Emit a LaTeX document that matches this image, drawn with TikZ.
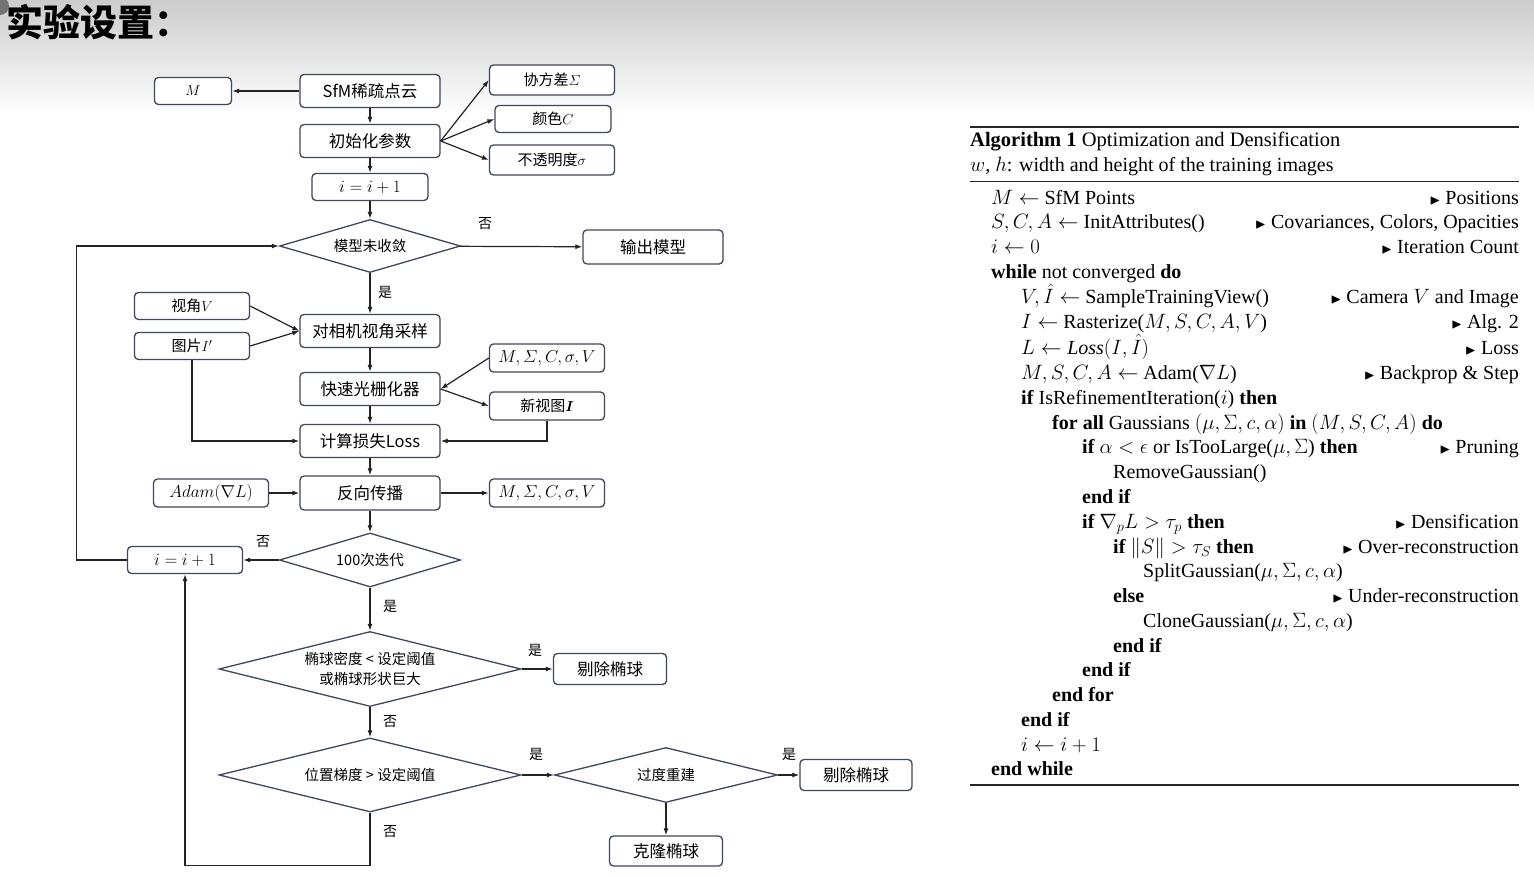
\documentclass[tikz,border=0pt]{standalone}
\usepackage{amsmath,amssymb}
\usepackage{fontspec}
\setmainfont{Liberation Serif}
\newfontfamily\cjk{Noto Sans CJK SC}
\usetikzlibrary{shapes.geometric,arrows.meta}
\definecolor{bcol}{RGB}{62,72,92}
\definecolor{lcol}{RGB}{35,35,35}
\tikzset{
  box/.style={draw=bcol, line width=1.3pt, rounded corners=4pt, fill=white, inner sep=0pt,
    font=\cjk\fontsize{16.5}{19}\selectfont, align=center},
  sbox/.style={box, font=\cjk\fontsize{15}{18}\selectfont},
  mbox/.style={box, font=\fontsize{16.5}{19}\selectfont},
  dia/.style={diamond, draw=bcol, line width=1.3pt, fill=white, inner sep=0pt, aspect=3.4,
    font=\cjk\fontsize{14.5}{20}\selectfont, align=center},
  arr/.style={-{Latex[length=7pt,width=5pt]}, line width=1.2pt, draw=lcol},
  lab/.style={font=\cjk\fontsize{14}{16}\selectfont, inner sep=0pt},
  alg/.style={anchor=base west, font=\fontsize{20}{22}\selectfont, inner sep=0pt},
  cmt/.style={anchor=base east, font=\fontsize{20}{22}\selectfont, inner sep=0pt},
  rulethick/.style={line width=1.8pt, draw=black!85},
}
\newcommand{\cmtmark}{$\scriptstyle\blacktriangleright$\ }
\newcommand{\hI}{\smash{\hat{I}}}
\begin{document}
\begin{tikzpicture}[x=1pt,y=-1pt]
\useasboundingbox (0,0) rectangle (1534,877);
\fill[white] (0,0) rectangle (1534,877);
\shade[top color=black!20, bottom color=white] (0,0) rectangle (1534,115);
\fill[black!55] (0,6) circle (9);
\node[anchor=west, font=\cjk\bfseries\fontsize{37}{40}\selectfont, inner sep=0pt] (title) at (6,22) {实验设置：};

% ---------- flowchart ----------
\node[mbox, minimum width=77pt, minimum height=27pt, font=\fontsize{15}{18}\selectfont] (M) at (193,91) {$M$};
\node[box, minimum width=140pt, minimum height=33pt] (sfm) at (370,91) {SfM稀疏点云};
\node[box, minimum width=140pt, minimum height=33pt] (init) at (370,141) {初始化参数};
\node[mbox, minimum width=116pt, minimum height=27pt] (inc1) at (370,187) {$i=i+1$};
\node[sbox, minimum width=125pt, minimum height=30pt] (cov) at (552,80) {协方差$\varSigma$};
\node[sbox, minimum width=116pt, minimum height=27pt] (col) at (553,119) {颜色$C$};
\node[sbox, minimum width=125pt, minimum height=30pt] (opa) at (552,160) {不透明度$\sigma$};

\node[dia, minimum width=181pt, minimum height=53pt] (d1) at (370,246) {模型未收敛};
\node[box, minimum width=140pt, minimum height=34pt] (out) at (653,247) {输出模型};

\node[sbox, minimum width=115pt, minimum height=27pt] (view) at (192,306) {视角$V$};
\node[sbox, minimum width=115pt, minimum height=27pt] (img) at (192,346) {图片$I'$};
\node[box, minimum width=140pt, minimum height=33pt] (samp) at (370,331) {对相机视角采样};
\node[box, minimum width=140pt, minimum height=33pt] (rast) at (370,389) {快速光栅化器};
\node[mbox, minimum width=115pt, minimum height=28pt] (p1) at (547,358) {$M,\varSigma,C,\sigma,V$};
\node[sbox, minimum width=115pt, minimum height=28pt] (nv) at (547,406) {新视图$\boldsymbol{I}$};
\node[box, minimum width=140pt, minimum height=33pt] (loss) at (370,441) {计算损失Loss};
\node[box, minimum width=140pt, minimum height=34pt] (bp) at (370,493) {反向传播};
\node[mbox, minimum width=115pt, minimum height=28pt] (adam) at (211,493) {$Adam(\nabla L)$};
\node[mbox, minimum width=115pt, minimum height=28pt] (p2) at (547,493) {$M,\varSigma,C,\sigma,V$};

\node[dia, minimum width=181pt, minimum height=54pt] (d2) at (370,560) {100次迭代};
\node[mbox, minimum width=115pt, minimum height=27pt] (inc2) at (185,560) {$i=i+1$};

\node[dia, minimum width=302pt, minimum height=75pt] (d3) at (370,669) {椭球密度 < 设定阈值\\或椭球形状巨大};
\node[box, minimum width=113pt, minimum height=31pt] (rm1) at (610,669) {剔除椭球};

\node[dia, minimum width=302pt, minimum height=74pt] (d4) at (370,775) {位置梯度 > 设定阈值};
\node[dia, minimum width=223pt, minimum height=55pt] (d5) at (666,775) {过度重建};
\node[box, minimum width=112pt, minimum height=31pt] (rm2) at (856,775) {剔除椭球};
\node[box, minimum width=113pt, minimum height=30pt] (clone) at (666,851) {克隆椭球};

% labels
\node[lab] (l1) at (485,224) {否};
\node[lab] (l2) at (385,292) {是};
\node[lab] (l3) at (263,542) {否};
\node[lab] (l4) at (390,606) {是};
\node[lab] (l5) at (535,650) {是};
\node[lab] (l6) at (390,722) {否};
\node[lab] (l7) at (536,754) {是};
\node[lab] (l8) at (789,754) {是};
\node[lab] (l9) at (390,832) {否};

% connectors
\draw[arr] (sfm) -- (M);
\draw[arr] (sfm) -- (init);
\draw[arr] (init) -- (inc1);
\draw[arr] (init.east) -- (cov.west);
\draw[arr] (init.east) -- (col.west);
\draw[arr] (init.east) -- (opa.west);
\draw[arr] (inc1) -- (d1);
\draw[arr] (d1) -- (out);
\draw[arr] (d1) -- (samp);
\draw[arr] (view.east) -- (samp.west);
\draw[arr] (img.east) -- (samp.west);
\draw[arr] (samp) -- (rast);
\draw[arr] (p1.west) -- (rast.east);
\draw[arr] (rast.east) -- (nv.west);
\draw[arr] (rast) -- (loss);
\draw[arr] (img.south) |- (loss.west);
\draw[arr] (nv.south) |- (loss.east);
\draw[arr] (loss) -- (bp);
\draw[arr] (adam) -- (bp);
\draw[arr] (bp) -- (p2);
\draw[arr] (bp) -- (d2);
\draw[arr] (d2) -- (inc2);
\draw[arr] (inc2.west) -- ++(-50,0) |- (d1.west);
\draw[arr] (d2) -- (d3);
\draw[arr] (d3) -- (rm1);
\draw[arr] (d3) -- (d4);
\draw[arr] (d4) -- (d5);
\draw[arr] (d5) -- (rm2);
\draw[arr] (d5) -- (clone);
\draw[arr] (d4.south) -- ++(0,53) -| (inc2.south);

% ---------- algorithm ----------
\draw[rulethick] (970,127) -- (1519,127);
\node[alg, font=\fontsize{20.5}{22}\selectfont] (cap1) at (970,147) {\textbf{Algorithm 1} Optimization and Densification};
\node[alg] (cap2) at (970,172) {$w$, $h$: width and height of the training images};
\draw[line width=1pt, draw=black!85] (970,182) -- (1519,182);

\node[alg] (a1) at (991,205) {$M \leftarrow$ SfM Points};
\node[cmt] (c1) at (1519,205) {\cmtmark Positions};
\node[alg] (a2) at (991,229) {$S, C, A \leftarrow$ InitAttributes()};
\node[cmt] (c2) at (1519,229) {\cmtmark Covariances, Colors, Opacities};
\node[alg] (a3) at (991,254) {$i \leftarrow 0$};
\node[cmt] (c3) at (1519,254) {\cmtmark Iteration Count};
\node[alg] (a4) at (991,279) {\textbf{while} not converged \textbf{do}};
\node[alg] (a5) at (1021,304) {$V, \hI \leftarrow$ SampleTrainingView()};
\node[cmt] (c5) at (1519,304) {\cmtmark Camera $V$ and Image};
\node[alg] (a6) at (1021,329) {$I \leftarrow$ Rasterize($M, S, C, A, V$)};
\node[cmt] (c6) at (1519,329) {\cmtmark Alg. 2};
\node[alg] (a7) at (1021,354) {$L \leftarrow \mathit{Loss}(I, \hI)$};
\node[cmt] (c7) at (1519,354) {\cmtmark Loss};
\node[alg] (a8) at (1021,379) {$M, S, C, A \leftarrow$ Adam($\nabla L$)};
\node[cmt] (c8) at (1519,379) {\cmtmark Backprop \& Step};
\node[alg] (a9) at (1021,404) {\textbf{if} IsRefinementIteration($i$) \textbf{then}};
\node[alg] (a10) at (1052,429) {\textbf{for all} Gaussians $(\mu, \Sigma, c, \alpha)$ \textbf{in} $(M, S, C, A)$ \textbf{do}};
\node[alg] (a11) at (1082,453) {\textbf{if} $\alpha < \epsilon$ or IsTooLarge($\mu, \Sigma$) \textbf{then}};
\node[cmt] (c11) at (1519,453) {\cmtmark Pruning};
\node[alg] (a12) at (1113,478) {RemoveGaussian()};
\node[alg] (a13) at (1082,503) {\textbf{end if}};
\node[alg] (a14) at (1082,528) {\textbf{if} $\nabla_p L > \tau_p$ \textbf{then}};
\node[cmt] (c14) at (1519,528) {\cmtmark Densification};
\node[alg] (a15) at (1113,553) {\textbf{if} $\|S\| > \tau_S$ \textbf{then}};
\node[cmt] (c15) at (1519,553) {\cmtmark Over-reconstruction};
\node[alg] (a16) at (1143,577) {SplitGaussian($\mu, \Sigma, c, \alpha$)};
\node[alg] (a17) at (1113,602) {\textbf{else}};
\node[cmt] (c17) at (1519,602) {\cmtmark Under-reconstruction};
\node[alg] (a18) at (1143,627) {CloneGaussian($\mu, \Sigma, c, \alpha$)};
\node[alg] (a19) at (1113,652) {\textbf{end if}};
\node[alg] (a20) at (1082,676) {\textbf{end if}};
\node[alg] (a21) at (1052,701) {\textbf{end for}};
\node[alg] (a22) at (1021,726) {\textbf{end if}};
\node[alg] (a23) at (1021,751) {$i \leftarrow i + 1$};
\node[alg] (a24) at (991,775) {\textbf{end while}};
\draw[line width=1.5pt, draw=black!85] (970,785) -- (1519,785);
\end{tikzpicture}
\end{document}
